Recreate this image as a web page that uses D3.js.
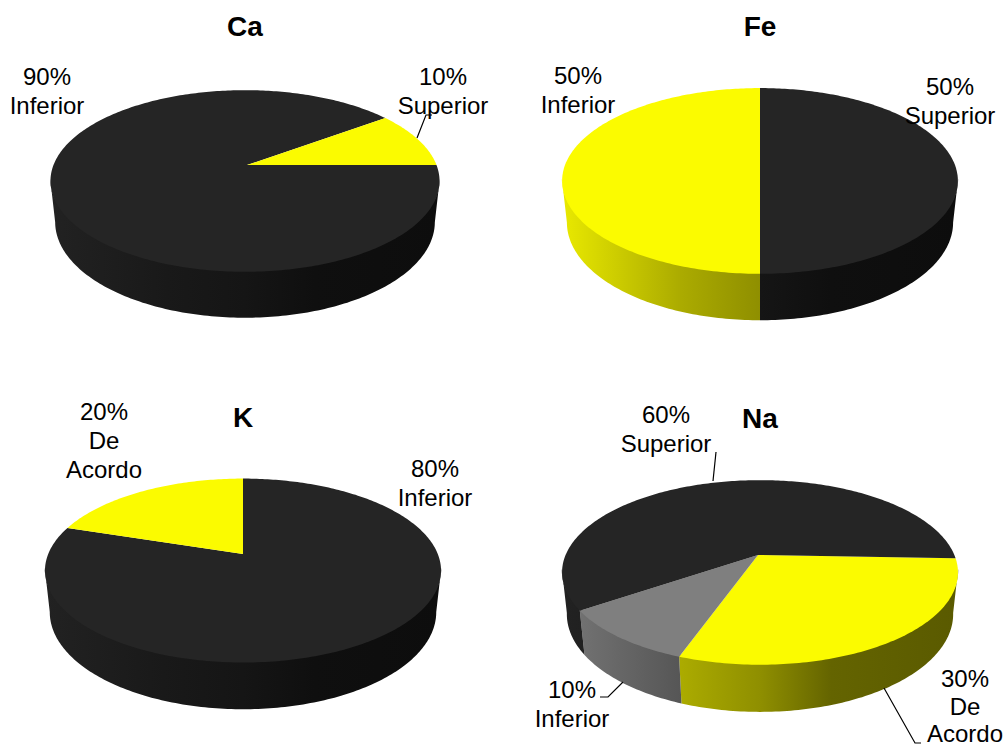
<!DOCTYPE html>
<html>
<head>
<meta charset="utf-8">
<title>Ca, Fe, K, Na</title>
<script src="https://cdn.jsdelivr.net/npm/d3@7"></script>
<style>
  html, body { margin: 0; padding: 0; background: #fff; }
  svg { display: block; }
  text { font-family: "Liberation Sans", Arial, sans-serif; fill: #000; }
</style>
</head>
<body>
<svg id="svg-container"></svg>
<script>
/// dimensions ///
const width = 1005;
const height = 747;

/// data - one set of small lists per pie ///
const caLabels = ["Inferior", "Superior"];
const caValues = [90, 10];
const feLabels = ["Superior", "Inferior"];
const feValues = [50, 50];
const kLabels = ["Inferior", "De Acordo"];
const kValues = [80, 20];
const naLabels = ["De Acordo", "Inferior", "Superior"];
const naValues = [30, 10, 60];

/// colours ///
const black = "#252525";
const yellow = "#fbfb00";
const grey = "#7f7f7f";
// how much the rim is darkened going left to right across the pie
const rimShade = [[0, 0.93], [0.3, 0.68], [0.5, 0.57], [0.68, 0.4], [1, 0.36]];

// part of the rim that faces the viewer, degrees from 12 o'clock
const rimFrom = 100 * Math.PI / 180;
const rimTo = 260 * Math.PI / 180;

/// the four pies: rotation in degrees from 12 o'clock, geometry of the 3D projection ///
const pies = [
  { title: "Ca", labels: caLabels, values: caValues, colors: [black, yellow], rotation: 90,
    cx: 245, apexX: 247, cy: 165, rx: 191.5, ry: 88, k: 0.176, depth: 41.5, titleY: 36,
    text: [
      { x: 47, y: 85, slice: 0 },
      { x: 443, y: 85, slice: 1 }
    ],
    leaders: [[[417, 138], [426, 115], [432, 115]]] },
  { title: "Fe", labels: feLabels, values: feValues, colors: [black, yellow], rotation: 0,
    cx: 760, apexX: 760, cy: 164.6, rx: 194.8, ry: 90, k: 0.176, depth: 42, titleY: 36,
    text: [
      { x: 950, y: 95, slice: 0 },
      { x: 578, y: 84, slice: 1 }
    ],
    leaders: [] },
  { title: "K", labels: kLabels, values: kValues, colors: [black, yellow], rotation: 0,
    cx: 243, apexX: 243, cy: 554, rx: 194.8, ry: 89, k: 0.18, depth: 42, titleY: 427,
    text: [
      { x: 435, y: 477, slice: 0 },
      { x: 104, y: 420, slice: 1, wrap: true }
    ],
    leaders: [] },
  { title: "Na", labels: naLabels, values: naValues, colors: [yellow, grey, black], rotation: 92,
    cx: 760, apexX: 758, cy: 555, rx: 194.4, ry: 89, k: 0.189, depth: 42, titleY: 428,
    text: [
      // a bit tighter so the last line stays inside the page
      { x: 965, y: 687, slice: 0, wrap: true, lineHeight: 27.5 },
      { x: 572, y: 698, slice: 1 },
      { x: 666, y: 423, slice: 2 }
    ],
    leaders: [
      [[884, 688], [915, 743], [921, 743]],
      [[623, 682], [608, 697], [600, 697]],
      [[713, 481], [716, 452]]
    ] }
];

const svg = d3.select("#svg-container")
  .attr("width", width)
  .attr("height", height)
  .attr("viewBox", `0 0 ${width} ${height}`);
const defs = svg.append("defs");
const lineGen = d3.line();

pies.forEach((p, pi) => {
  // projection of a point on the unit disc, h = 0 on top face and 1 on the bottom rim
  const project = (a, h) => {
    const u = Math.sin(a);
    const v = -Math.cos(a);
    const w = 1 - p.k * v + 0.024 * h;
    return [p.cx + p.rx * u / w, p.cy + (p.ry * v + p.depth * h) / w];
  };
  const arcPoints = (a0, a1, h) => d3.range(0, 1.0001, 1 / Math.max(2, Math.ceil((a1 - a0) * 60)))
    .map(t => project(a0 + (a1 - a0) * t, h));

  const slices = d3.pie()
    .sort(null)
    .startAngle(p.rotation * Math.PI / 180)
    .endAngle(p.rotation * Math.PI / 180 + 2 * Math.PI)(p.values);

  const g = svg.append("g");

  // gradient for the rim of each slice
  const halfWidth = p.rx / Math.sqrt(1 - p.k * p.k);
  slices.forEach((s, i) => {
    const grad = defs.append("linearGradient")
      .attr("id", `rim-${pi}-${i}`)
      .attr("gradientUnits", "userSpaceOnUse")
      .attr("x1", p.cx - halfWidth).attr("x2", p.cx + halfWidth)
      .attr("y1", 0).attr("y2", 0);
    const base = d3.rgb(p.colors[i]);
    rimShade.forEach(([t, f]) => {
      grad.append("stop")
        .attr("offset", t)
        .attr("stop-color", d3.rgb(base.r * f, base.g * f, base.b * f).formatHex());
    });
  });

  // rims first: only the stretch of each slice that faces the viewer
  const visible = slices
    .map(d => ({
      index: d.index,
      from: Math.max(d.startAngle, rimFrom),
      to: Math.min(d.endAngle, rimTo)
    }))
    .filter(d => d.to > d.from);

  // the upper edge starts a little above the face edge, so no white seam shows between them
  g.selectAll(".rim")
    .data(visible)
    .join("path")
      .attr("class", "rim")
      .attr("fill", d => `url(#rim-${pi}-${d.index})`)
      .attr("d", d => lineGen(
        arcPoints(d.from, d.to, -0.05).concat(arcPoints(d.from, d.to, 1).reverse())
      ) + "Z");

  // top faces
  g.selectAll(".face")
    .data(slices)
    .join("path")
      .attr("class", "face")
      .attr("fill", d => p.colors[d.index])
      .attr("d", d => lineGen([[p.apexX, p.cy]].concat(arcPoints(d.startAngle, d.endAngle, 0))) + "Z");

  // leader lines
  g.selectAll(".leader")
    .data(p.leaders)
    .join("path")
      .attr("class", "leader")
      .attr("fill", "none")
      .attr("stroke", "#000")
      .attr("stroke-width", 1.2)
      .attr("d", lineGen);

  // title
  g.append("text")
    .attr("x", p.cx)
    .attr("y", p.titleY)
    .attr("text-anchor", "middle")
    .attr("font-size", 28)
    .attr("font-weight", "bold")
    .text(p.title);

  // value + category labels
  p.text.forEach(t => {
    const label = p.labels[t.slice];
    const lines = [`${p.values[t.slice]}%`].concat(t.wrap ? label.split(" ") : [label]);
    const labelText = g.append("text")
      .attr("text-anchor", "middle")
      .attr("font-size", 24);
    lines.forEach((line, i) => {
      labelText.append("tspan")
        .attr("x", t.x)
        .attr("y", t.y + i * (t.lineHeight || 29))
        .text(line);
    });
  });
});
</script>
</body>
</html>
